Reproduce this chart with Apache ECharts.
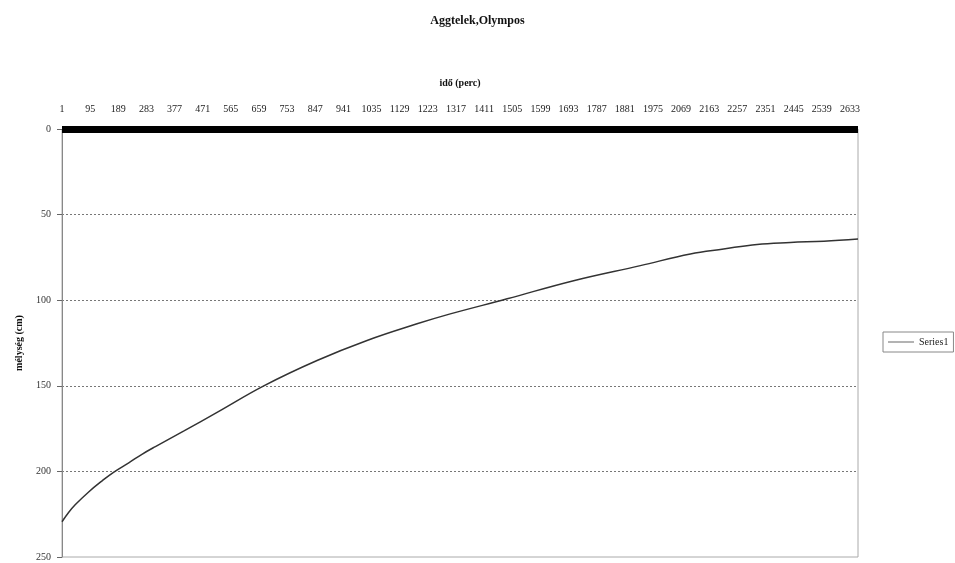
<!DOCTYPE html>
<html>
<head>
<meta charset="utf-8">
<script src="https://cdn.jsdelivr.net/npm/echarts@6/dist/echarts.min.js"></script>
<style>
  html, body { margin: 0; padding: 0; background: #fff; }
  #chart { width: 955px; height: 563px; }
</style>
</head>
<body>
<div id="chart"></div>
<script>
// Elapsed time in minutes and measured depth (cm)
const minutes = [1, 23, 45, 90, 135, 173, 224, 268, 313, 407, 519, 675, 853, 1020, 1187, 1298, 1488, 1710, 1933, 2100, 2211, 2323, 2434, 2546, 2660];
const depthCm = [229.4, 224, 219.5, 212, 205.5, 200.5, 195, 190, 185.5, 176.5, 165.5, 150, 135.2, 123.5, 113.8, 108, 99.2, 88.6, 79.8, 73, 70.1, 67.4, 66.3, 65.5, 64.3];

const seriesName = 'Series1';
const chartTitle = 'Aggtelek,Olympos';
const xName = 'idő (perc)';
const yName = 'mélység (cm)';

const points = minutes.map((m, i) => [m, depthCm[i]]);
const serif = '"Liberation Serif", "DejaVu Serif", serif';

const chart = echarts.init(document.getElementById('chart'));
chart.setOption({
  backgroundColor: '#fff',
  animation: false,
  title: {
    text: chartTitle,
    left: 'center',
    top: 10,
    textStyle: { fontFamily: serif, fontSize: 12, fontWeight: 'bold', color: '#111' }
  },
  legend: {
    data: [seriesName],
    left: 883,
    top: 332,
    orient: 'vertical',
    icon: 'rect',
    itemWidth: 26,
    itemHeight: 1,
    itemGap: 4,
    padding: [5, 5, 5, 5],
    borderColor: '#888',
    borderWidth: 1,
    itemStyle: { color: '#666' },
    textStyle: { fontFamily: serif, fontSize: 10, color: '#222' }
  },
  grid: {
    left: 62,
    right: 97,
    top: 129,
    bottom: 6,
    show: true,
    borderColor: '#aaa',
    borderWidth: 1
  },
  xAxis: {
    type: 'value',
    position: 'top',
    min: 1,
    max: 2660,
    interval: 94,
    name: xName,
    nameLocation: 'middle',
    nameGap: 41,
    nameTextStyle: { fontFamily: serif, fontSize: 10, fontWeight: 'bold', color: '#111' },
    axisLine: { show: true, onZero: false, lineStyle: { color: '#000', width: 7, cap: 'butt' } },
    axisTick: { show: false },
    axisLabel: {
      margin: 15,
      showMaxLabel: false,
      hideOverlap: false,
      formatter: v => String(v),
      fontFamily: serif,
      fontSize: 10,
      color: '#222'
    },
    splitLine: { show: false }
  },
  yAxis: {
    type: 'value',
    inverse: true,
    min: 0,
    max: 250,
    interval: 50,
    name: yName,
    nameLocation: 'middle',
    nameRotate: 90,
    nameGap: 38,
    nameTextStyle: { fontFamily: serif, fontSize: 10, fontWeight: 'bold', color: '#111' },
    axisLine: { show: true, lineStyle: { color: '#888', width: 1 } },
    axisTick: { show: true, length: 5, lineStyle: { color: '#666' } },
    axisLabel: { margin: 11, fontFamily: serif, fontSize: 10, color: '#333' },
    splitLine: {
      show: true,
      showMinLine: false,
      showMaxLine: false,
      lineStyle: { color: '#777', type: [2, 2], width: 1 }
    }
  },
  series: [{
    name: seriesName,
    type: 'line',
    data: points,
    smooth: 0.4,
    showSymbol: false,
    lineStyle: { color: '#333', width: 1.5 },
    itemStyle: { color: '#333' }
  }]
});
</script>
</body>
</html>
